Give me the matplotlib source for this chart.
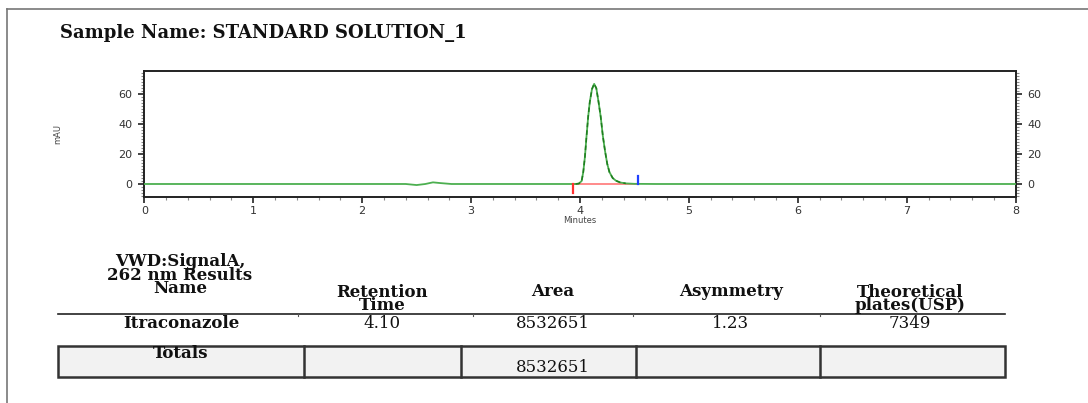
import matplotlib
matplotlib.use("Agg")
import matplotlib.pyplot as plt
from matplotlib.ticker import MultipleLocator
from matplotlib.lines import Line2D
from matplotlib.patches import Rectangle

# ---------------- data ----------------
time_min = [0.00, 2.40, 2.50, 2.58, 2.65, 2.72, 2.82, 3.90, 3.96, 3.99, 4.015, 4.03,
            4.045, 4.06, 4.075, 4.09, 4.11, 4.13, 4.15, 4.17, 4.19, 4.21, 4.23, 4.25,
            4.27, 4.30, 4.33, 4.37, 4.42, 4.50, 4.70, 8.00]
signal_mau = [0.0, 0.0, -0.7, 0.0, 1.1, 0.6, 0.0, 0.0, 0.0, 0.3, 2.0, 8.0,
              18.0, 32.0, 45.0, 55.0, 63.5, 67.0, 64.0, 55.0, 45.0, 32.0, 22.0, 13.5,
              8.0, 4.0, 2.2, 1.0, 0.4, 0.1, 0.0, 0.0]
peak_start = 3.94
peak_end = 4.535
x_ticks = [0, 1, 2, 3, 4, 5, 6, 7, 8]
y_ticks = [0, 20, 40, 60]

title = "Sample Name: STANDARD SOLUTION_1"
name_header = "VWD:SignalA,\n262 nm Results\nName"
header_cols = ["Retention\nTime", "Area", "Asymmetry", "Theoretical\nplates(USP)"]
row_name = "Itraconazole"
row_values = ["4.10", "8532651", "1.23", "7349"]
total_area = "8532651"

# ---------------- figure ----------------
W, H = 1088, 403
fig = plt.figure(figsize=(W / 100, H / 100), dpi=100)
fig.patch.set_facecolor("white")


def fx(x):
    return x / W


def fy(y):
    return 1 - y / H


# page border
fig.add_artist(Line2D([fx(7), fx(1088)], [fy(9), fy(9)], color="#777777", lw=1.2))
fig.add_artist(Line2D([fx(7), fx(7)], [fy(9), fy(403)], color="#777777", lw=1.2))

serif = ["DejaVu Serif"]
ink = "#111111"
fig.text(fx(60), fy(33), title, fontsize=13, fontweight="bold", family=serif,
         color=ink, ha="left", va="center")

# ---------------- chromatogram ----------------
L, R, T, B = 144.3, 1015.7, 71, 196.7
ax = fig.add_axes([fx(L), fy(B), (R - L) / W, (B - T) / H])
ax.set_xlim(0, 8)
ax.set_ylim(-8.5, 75.6)

ax.plot(time_min, signal_mau, color="#4caf50", lw=1.3, zorder=3)
pk = [i for i, t in enumerate(time_min) if 3.96 <= t <= 4.42]
ax.plot([time_min[i] for i in pk], [signal_mau[i] for i in pk], color="#1e7d1e",
        lw=1.1, dashes=(3, 2), zorder=4)

ax.plot([peak_start, peak_end], [0.1, 0.1], color="#ff5555", lw=1.2, zorder=2, alpha=0.8)
ax.plot([peak_start, peak_start], [0, -6], color="#ff3030", lw=1.6, zorder=5)
ax.plot([peak_end, peak_end], [0, 5.5], color="#2040ff", lw=1.6, zorder=5)

for s in ax.spines.values():
    s.set_color("#222222")
    s.set_linewidth(1.4)

ax.set_xticks(x_ticks)
ax.set_yticks(y_ticks)
ax.xaxis.set_minor_locator(MultipleLocator(0.2))
ax.yaxis.set_minor_locator(MultipleLocator(2))
ax.tick_params(axis="both", which="major", direction="out", length=4, width=1.2,
               color="#222222", labelsize=8, labelcolor="#333333")
ax.tick_params(axis="y", which="major", pad=4.5)
ax.tick_params(axis="x", which="major", pad=2.5)
ax.tick_params(axis="both", which="minor", direction="out", length=2.5, width=0.8,
               color="#888888")
ax.tick_params(axis="y", which="both", left=True, right=True, labelleft=True,
               labelright=True)
ax.set_xlabel("Minutes", fontsize=6, color="#444444", labelpad=0)
ax.set_ylabel("mAU", fontsize=6, color="#444444")
ax.yaxis.set_label_coords((62 - L) / (R - L), 0.5)

# ---------------- results table ----------------
fs = 12
ls = 0.72
fig.text(fx(180), fy(275), name_header, fontsize=fs, fontweight="bold", family=serif,
         ha="center", va="center", multialignment="center", linespacing=ls, color=ink)
col_x = [382, 553, 731, 910]
for cx, lab in zip(col_x, header_cols):
    yc = 299 if "\n" in lab else 292
    fig.text(fx(cx), fy(yc), lab, fontsize=fs, fontweight="bold", family=serif,
             ha="center", va="center", multialignment="center", linespacing=ls,
             color=ink)

fig.add_artist(Line2D([fx(58), fx(1005)], [fy(314), fy(314)], color="#222222", lw=1.2))
for tx in [298, 473, 633, 820]:
    fig.add_artist(Line2D([fx(tx), fx(tx)], [fy(314), fy(316)], color="#555555", lw=0.8))

fig.text(fx(181), fy(324), row_name, fontsize=fs, fontweight="bold", family=serif,
         ha="center", va="center", color=ink)
for cx, v in zip(col_x, row_values):
    fig.text(fx(cx), fy(323), v, fontsize=fs, family=serif, ha="center",
             va="center", color=ink)

# totals box
box_top, box_bot = 345.5, 376.5
edges = [58, 304, 461, 636, 820, 1005]
fig.add_artist(Rectangle((fx(58), fy(box_bot)), fx(1005) - fx(58), fy(box_top) - fy(box_bot),
                         facecolor="#f2f2f2", edgecolor="#333333", lw=1.8,
                         transform=fig.transFigure))
for ex in edges[1:-1]:
    fig.add_artist(Line2D([fx(ex), fx(ex)], [fy(box_top), fy(box_bot)], color="#333333", lw=1.8))

fig.text(fx(181), fy(353), "Totals", fontsize=fs, fontweight="bold", family=serif,
         ha="center", va="center", color=ink)
fig.text(fx(553), fy(368), total_area, fontsize=fs, family=serif, ha="center",
         va="center", color=ink)

fig.savefig("out.png", dpi=100, facecolor="white")
